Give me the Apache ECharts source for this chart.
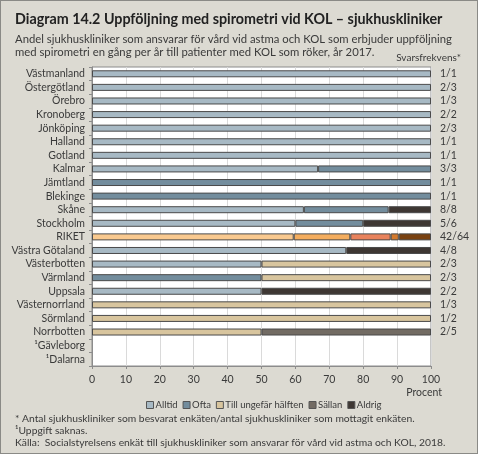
<!DOCTYPE html>
<html>
<head>
<meta charset="utf-8">
<script src="https://cdn.jsdelivr.net/npm/echarts@6/dist/echarts.min.js"></script>
<style>
  html, body { margin: 0; padding: 0; background: #dcdad2; }
  #chart { width: 478px; height: 454px; box-sizing: border-box; border: 1px solid #8a8a86; }
</style>
</head>
<body>
<div id="chart"></div>
<script>
const FONT = 'Lato'
const TEXT = '#3a3a3a'

const categories = ['Västmanland', 'Östergötland', 'Örebro', 'Kronoberg', 'Jönköping', 'Halland', 'Gotland',
  'Kalmar', 'Jämtland', 'Blekinge', 'Skåne', 'Stockholm', 'RIKET', 'Västra Götaland', 'Västerbotten',
  'Värmland', 'Uppsala', 'Västernorrland', 'Sörmland', 'Norrbotten', '¹Gävleborg', '¹Dalarna']
const svarsfrekvens = ['1/1', '2/3', '1/3', '2/2', '2/3', '1/1', '1/1', '3/3', '1/1', '1/1', '8/8', '5/6',
  '42/64', '4/8', '2/3', '2/3', '2/2', '1/3', '1/2', '2/5', '', '']

const alltid = [100, 100, 100, 100, 100, 100, 100, 66.7, null, null, 62.5, 60, 59.5, 75, 50, null, 50, null, null, null, null, null]
const ofta = [null, null, null, null, null, null, null, 33.3, 100, 100, 25, 20, 16.7, null, null, 50, null, null, null, null, null, null]
const halften = [null, null, null, null, null, null, null, null, null, null, null, null, 11.9, null, 50, 50, null, 100, 100, 50, null, null]
const sallan = [null, null, null, null, null, null, null, null, null, null, null, null, 2.4, null, null, null, null, null, null, 50, null, null]
const aldrig = [null, null, null, null, null, null, null, null, null, null, 12.5, 20, 9.5, 25, null, null, 50, null, null, null, null, null]

const seriesDefs = [
  { name: 'Alltid', data: alltid, color: '#a7b9c4', riket: '#f9c98f' },
  { name: 'Ofta', data: ofta, color: '#738d9d', riket: '#f4ad5e' },
  { name: 'Till ungefär hälften', data: halften, color: '#d8c59e', riket: '#e8825c' },
  { name: 'Sällan', data: sallan, color: '#726b63', riket: '#d47a2e' },
  { name: 'Aldrig', data: aldrig, color: '#3e3733', riket: '#7a4212' }
]

const riketIndex = categories.indexOf('RIKET')

const chart = echarts.init(document.getElementById('chart'), null, { renderer: 'canvas' })

chart.setOption({
  animation: false,
  backgroundColor: '#dcdad2',
  textStyle: { fontFamily: FONT, color: TEXT },
  title: [
    {
      text: 'Diagram 14.2 Uppföljning med spirometri vid KOL – sjukhuskliniker',
      left: 9, top: 6,
      textStyle: { fontFamily: FONT, fontSize: 14.3, fontWeight: 'bold', color: '#222' }
    },
    {
      text: 'Andel sjukhuskliniker som ansvarar för vård vid astma och KOL som erbjuder uppföljning\nmed spirometri en gång per år till patienter med KOL som röker, år 2017.',
      left: 9, top: 27,
      textStyle: { fontFamily: FONT, fontSize: 11.3, fontWeight: 'normal', color: TEXT, lineHeight: 13 }
    },
    {
      text: '* Antal sjukhuskliniker som besvarat enkäten/antal sjukhuskliniker som mottagit enkäten.\n¹Uppgift saknas.\nKälla:  Socialstyrelsens enkät till sjukhuskliniker som ansvarar för vård vid astma och KOL, 2018.',
      left: 9, top: 407,
      textStyle: { fontFamily: FONT, fontSize: 10.3, fontWeight: 'normal', color: TEXT, lineHeight: 12 }
    }
  ],
  graphic: [
    {
      type: 'text', right: 16, top: 52,
      style: { text: 'Svarsfrekvens*', font: '10px Lato', fill: TEXT }
    },
    {
      type: 'text', right: 35, top: 386,
      style: { text: 'Procent', font: '10.5px Lato', fill: TEXT }
    }
  ],
  legend: {
    left: 140, top: 394,
    itemWidth: 7, itemHeight: 7, itemGap: 5,
    icon: 'rect',
    textStyle: { fontFamily: FONT, fontSize: 9.5, color: TEXT, padding: [0, 0, 0, -3] },
    itemStyle: { borderColor: '#555', borderWidth: 1 },
    data: seriesDefs.map((s) => s.name)
  },
  grid: {
    left: 91, right: 46, top: 66, bottom: 87,
    show: true, backgroundColor: '#ffffff', borderColor: '#8c8c8c', borderWidth: 1
  },
  xAxis: {
    type: 'value', min: 0, max: 100, interval: 10,
    axisLine: { show: true, lineStyle: { color: '#8c8c8c' } },
    axisTick: { show: true, length: 3, lineStyle: { color: '#8c8c8c' } },
    axisLabel: { fontFamily: FONT, fontSize: 10.5, color: TEXT, margin: 8 },
    splitLine: { show: true, lineStyle: { color: '#dadada', width: 1 } }
  },
  yAxis: [
    {
      type: 'category', data: categories, inverse: true,
      axisLine: { show: true, lineStyle: { color: '#8c8c8c' } },
      axisTick: { show: true, length: 3, lineStyle: { color: '#8c8c8c' } },
      axisLabel: { interval: 0, fontFamily: FONT, fontSize: 10.5, color: TEXT, margin: 7 }
    },
    {
      type: 'category', data: svarsfrekvens, inverse: true, position: 'right',
      axisLine: { show: false }, axisTick: { show: false },
      axisLabel: { interval: 0, fontFamily: FONT, fontSize: 10.5, color: TEXT, margin: 9 }
    }
  ],
  series: seriesDefs.map((s) => ({
    name: s.name,
    type: 'bar',
    stack: 'total',
    barWidth: 7,
    yAxisIndex: 0,
    itemStyle: { color: s.color, borderColor: '#4a4a4a', borderWidth: 1 },
    data: s.data.map((v, i) => (i === riketIndex && v != null
      ? { value: v, itemStyle: { color: s.riket } }
      : v))
  }))
})
</script>
</body>
</html>
